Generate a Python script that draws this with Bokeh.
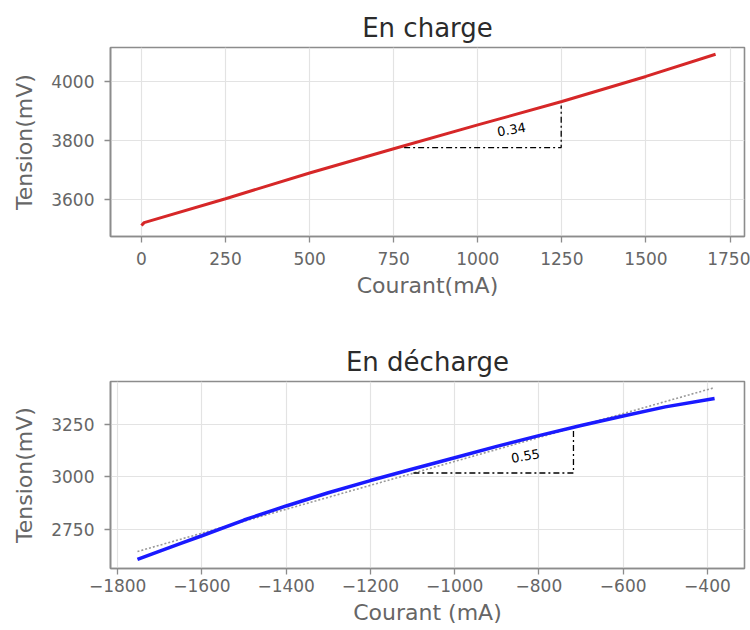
from bokeh.plotting import figure
from bokeh.layouts import column
from bokeh.models import Range1d, Label
from bokeh.embed import file_html
from bokeh.resources import INLINE

# ---- data: charge ----
charge_i = [0, 8, 250, 500, 750, 1000, 1250, 1500, 1707]
charge_u = [3512, 3522, 3603, 3690, 3772, 3853, 3932, 4017, 4092]
charge_tri_x = [781, 1248, 1248]
charge_tri_y = [3776, 3776, 3919]
charge_slope_label = "0.34"
charge_xticks = [0, 250, 500, 750, 1000, 1250, 1500, 1750]
charge_yticks = [3600, 3800, 4000]

# ---- data: discharge ----
dis_i = [-1753, -1700, -1650, -1600, -1500, -1400, -1300, -1200, -1100,
         -1000, -900, -800, -700, -600, -500, -383]
dis_u = [2607, 2647, 2684, 2720, 2795, 2862, 2925, 2983, 3038,
         3092, 3146, 3197, 3245, 3291, 3334, 3374]
fit_i = [-1753, -383]
fit_u = [2645, 3426]
dis_tri_x = [-1098, -718, -718]
dis_tri_y = [3019, 3019, 3226]
dis_slope_label = "0.55"
dis_xticks = [-1800, -1600, -1400, -1200, -1000, -800, -600, -400]
dis_yticks = [2750, 3000, 3250]

FONT = "DejaVu Sans"
GRAY = "#666666"


def style(p, xlabel):
    p.title.text_font = FONT
    p.title.text_font_size = "26px"
    p.title.text_font_style = "normal"
    p.title.text_color = "#2b2b2b"
    p.title.align = "center"
    p.title.standoff = 9
    p.outline_line_color = "#8c8c8c"
    p.outline_line_width = 1.6
    p.background_fill_color = "white"
    p.border_fill_color = "white"
    for ax in (p.xaxis[0], p.yaxis[0]):
        ax.axis_line_color = "#8c8c8c"
        ax.axis_line_width = 1.6
        ax.major_tick_line_color = "#8c8c8c"
        ax.major_tick_line_width = 1.3
        ax.major_tick_in = 0
        ax.major_tick_out = 6
        ax.minor_tick_line_color = None
        ax.major_label_text_font = FONT
        ax.major_label_text_font_size = "17px"
        ax.major_label_text_color = GRAY
        ax.axis_label_text_font = FONT
        ax.axis_label_text_font_size = "22px"
        ax.axis_label_text_font_style = "normal"
        ax.axis_label_text_color = GRAY
    p.xaxis.axis_label = xlabel
    p.yaxis.axis_label = "Tension(mV)"
    p.yaxis.major_label_orientation = "horizontal"
    p.yaxis.major_label_standoff = 10
    p.yaxis.axis_label_standoff = 11
    p.grid.grid_line_color = "#e3e3e3"
    p.grid.grid_line_width = 1.2


# ---- top figure ----
p1 = figure(width=750, height=305, title="En charge",
            x_range=Range1d(-92, 1793), y_range=Range1d(3475, 4115),
            output_backend="svg", toolbar_location=None,
            min_border_left=107, min_border_right=6,
            min_border_top=47, min_border_bottom=69)
style(p1, "Courant(mA)")
p1.xaxis.major_label_standoff = 9
p1.xaxis.axis_label_standoff = 5
p1.xaxis.ticker = charge_xticks
p1.yaxis.ticker = charge_yticks
p1.line(charge_i, charge_u, line_color="#d62728", line_width=3)
p1.line(charge_tri_x, charge_tri_y, line_color="black", line_width=1.3,
        line_dash="6 3 2 3")
p1.add_layout(Label(x=1100, y=3837, text=charge_slope_label, angle=0.17,
                    text_font=FONT, text_font_size="13px", text_color="black",
                    text_align="center", text_baseline="middle"))

# ---- bottom figure ----
p2 = figure(width=750, height=325, title="En décharge",
            x_range=Range1d(-1817, -312), y_range=Range1d(2564, 3455),
            output_backend="svg", toolbar_location=None,
            min_border_left=110, min_border_right=6,
            min_border_top=76, min_border_bottom=62)
style(p2, "Courant (mA)")
p2.xaxis.major_label_standoff = 4
p2.xaxis.axis_label_standoff = 5
p2.xaxis.ticker = dis_xticks
p2.xaxis.major_label_overrides = {t: str(t).replace("-", "\u2212") for t in dis_xticks}
p2.yaxis.ticker = dis_yticks
p2.line(fit_i, fit_u, line_color="#9a9a9a", line_width=1.6, line_dash="2 2")
p2.line(dis_i, dis_u, line_color="#1a1aff", line_width=3.5)
p2.line(dis_tri_x, dis_tri_y, line_color="black", line_width=1.3,
        line_dash="6 3 2 3")
p2.add_layout(Label(x=-832, y=3100, text=dis_slope_label, angle=0.17,
                    text_font=FONT, text_font_size="13px", text_color="black",
                    text_align="center", text_baseline="middle"))

layout = column(p1, p2, spacing=0)
open("out.html", "w").write(file_html(layout, INLINE))
